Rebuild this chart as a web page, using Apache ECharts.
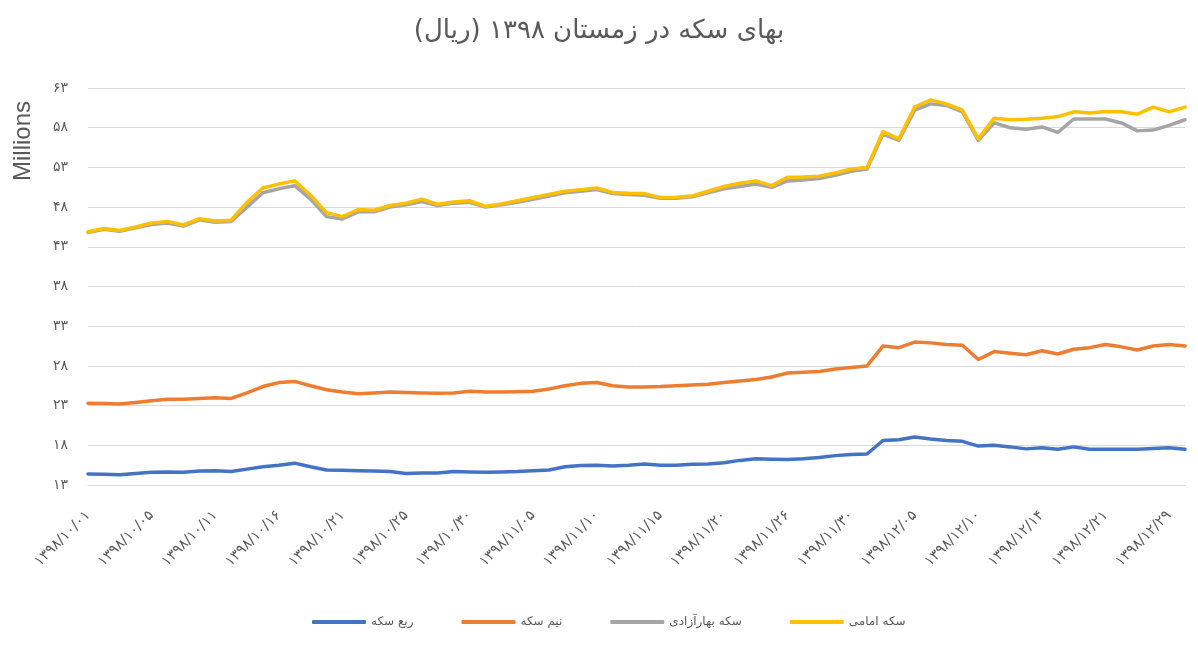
<!DOCTYPE html>
<html>
<head>
<meta charset="utf-8">
<title>بهای سکه در زمستان ۱۳۹۸</title>
<script src="https://cdn.jsdelivr.net/npm/echarts@6/dist/echarts.min.js"></script>
<style>
  html, body { margin: 0; padding: 0; background: #fff; }
  #chart { width: 1198px; height: 645px; }
</style>
</head>
<body>
<div id="chart"></div>
<script>
// trading days (Jalali), Latin digits here, shown with Persian digits
const dates = [
  '1398/10/01', '1398/10/02', '1398/10/03', '1398/10/04', '1398/10/05', '1398/10/07', '1398/10/08', '1398/10/09',
  '1398/10/11', '1398/10/12', '1398/10/14', '1398/10/15', '1398/10/16', '1398/10/17', '1398/10/18', '1398/10/19',
  '1398/10/21', '1398/10/22', '1398/10/23', '1398/10/24', '1398/10/25', '1398/10/26', '1398/10/28', '1398/10/29',
  '1398/10/30', '1398/11/01', '1398/11/02', '1398/11/03', '1398/11/05', '1398/11/06', '1398/11/07', '1398/11/09',
  '1398/11/10', '1398/11/11', '1398/11/12', '1398/11/13', '1398/11/15', '1398/11/16', '1398/11/17', '1398/11/19',
  '1398/11/20', '1398/11/21', '1398/11/23', '1398/11/24', '1398/11/26', '1398/11/27', '1398/11/28', '1398/11/29',
  '1398/11/30', '1398/12/01', '1398/12/03', '1398/12/04', '1398/12/05', '1398/12/06', '1398/12/07', '1398/12/08',
  '1398/12/10', '1398/12/11', '1398/12/12', '1398/12/13', '1398/12/14', '1398/12/15', '1398/12/17', '1398/12/18',
  '1398/12/21', '1398/12/22', '1398/12/24', '1398/12/25', '1398/12/29', '1399/01/05'
];

// millions of rials
const robSekke = [
  14.4, 14.35, 14.3, 14.45, 14.6, 14.65, 14.6, 14.75, 14.8, 14.7,
  15.0, 15.3, 15.5, 15.75, 15.3, 14.9, 14.85, 14.8, 14.75, 14.7,
  14.45, 14.5, 14.5, 14.7, 14.65, 14.6, 14.65, 14.7, 14.8, 14.9,
  15.3, 15.45, 15.5, 15.4, 15.5, 15.65, 15.5, 15.5, 15.6, 15.65,
  15.8, 16.1, 16.3, 16.25, 16.2, 16.3, 16.45, 16.7, 16.85, 16.9,
  18.6, 18.7, 19.05, 18.8, 18.6, 18.5, 17.9, 18.0, 17.8, 17.55,
  17.7, 17.5, 17.8, 17.5, 17.5, 17.5, 17.5, 17.6, 17.7, 17.5
];
const nimSekke = [
  23.3, 23.25, 23.2, 23.4, 23.6, 23.8, 23.8, 23.9, 24.0, 23.9,
  24.6, 25.4, 25.9, 26.05, 25.5, 25.0, 24.7, 24.5, 24.6, 24.7,
  24.65, 24.6, 24.55, 24.6, 24.8, 24.7, 24.7, 24.75, 24.8, 25.1,
  25.5, 25.8, 25.9, 25.5, 25.35, 25.35, 25.4, 25.5, 25.6, 25.7,
  25.9, 26.1, 26.3, 26.6, 27.1, 27.2, 27.3, 27.6, 27.8, 28.0,
  30.5, 30.3, 31.0, 30.9, 30.7, 30.6, 28.8, 29.8, 29.6, 29.4,
  29.9, 29.5, 30.1, 30.3, 30.7, 30.4, 30.0, 30.5, 30.7, 30.5
];
const baharAzadi = [
  44.8, 45.2, 44.95, 45.4, 45.8, 46.0, 45.6, 46.4, 46.1, 46.2,
  48.0, 49.8, 50.3, 50.7, 49.0, 46.8, 46.5, 47.4, 47.4, 48.0,
  48.3, 48.7, 48.2, 48.5, 48.6, 48.0, 48.3, 48.6, 49.0, 49.4,
  49.8, 50.0, 50.2, 49.7, 49.6, 49.5, 49.1, 49.1, 49.3, 49.8,
  50.3, 50.6, 50.9, 50.5, 51.3, 51.4, 51.6, 52.0, 52.5, 52.8,
  57.2, 56.4, 60.2, 61.0, 60.8, 60.0, 56.4, 58.6, 58.0, 57.8,
  58.1, 57.4, 59.1, 59.1, 59.1, 58.6, 57.6, 57.7, 58.3, 59.0
];
const emami = [
  44.9, 45.3, 45.05, 45.5, 46.0, 46.2, 45.75, 46.55, 46.25, 46.35,
  48.6, 50.4, 50.9, 51.3, 49.5, 47.3, 46.8, 47.7, 47.6, 48.2,
  48.5, 49.0, 48.35, 48.65, 48.8, 48.1, 48.4, 48.8, 49.2, 49.6,
  50.0, 50.2, 50.4, 49.85, 49.75, 49.7, 49.2, 49.25, 49.4, 50.0,
  50.6, 51.0, 51.3, 50.7, 51.75, 51.8, 51.9, 52.3, 52.8, 53.0,
  57.5, 56.6, 60.6, 61.5, 61.0, 60.2, 56.6, 59.2, 59.0, 59.05,
  59.2, 59.4, 60.0, 59.85, 60.05, 60.0, 59.7, 60.6, 60.0, 60.6
];

const seriesNames = ['ربع سکه', 'نیم سکه', 'سکه بهارآزادی', 'سکه امامی'];
const seriesColors = ['#4472c4', '#ed7d31', '#a5a5a5', '#ffc000'];
const seriesData = [robSekke, nimSekke, baharAzadi, emami];

const faDigits = '۰۱۲۳۴۵۶۷۸۹';
function toFa(s) {
  return String(s).replace(/[0-9]/g, d => faDigits[+d]);
}

const FONT = 'DejaVu Sans';
const chart = echarts.init(document.getElementById('chart'));

chart.setOption({
  backgroundColor: '#fff',
  animation: false,
  title: {
    text: 'بهای سکه در زمستان ۱۳۹۸ (ریال)',
    left: 'center',
    top: 13,
    textStyle: { fontFamily: FONT, fontSize: 26, fontWeight: 'normal', color: '#595959' }
  },
  graphic: [{
    type: 'text',
    x: 23,
    y: 141,
    rotation: Math.PI / 2,
    style: {
      text: 'Millions',
      font: '24px "Liberation Sans"',
      fill: '#595959',
      textAlign: 'center',
      textVerticalAlign: 'middle'
    }
  }],
  legend: {
    bottom: 12,
    left: 307,
    icon: 'roundRect',
    itemWidth: 54,
    itemHeight: 4,
    itemGap: 48,
    textStyle: { fontFamily: FONT, fontSize: 12, color: '#595959' },
    data: seriesNames
  },
  grid: { left: 88, right: 13, top: 88, bottom: 160 },
  xAxis: {
    type: 'category',
    boundaryGap: false,
    data: dates,
    axisLine: { lineStyle: { color: '#d9d9d9' } },
    axisTick: { show: false },
    axisLabel: {
      interval: 3,
      rotate: 45,
      margin: 28,
      fontFamily: FONT,
      fontSize: 14.5,
      color: '#595959',
      formatter: v => toFa(v)
    }
  },
  yAxis: {
    type: 'value',
    min: 13,
    max: 63,
    interval: 5,
    axisLine: { show: false },
    axisTick: { show: false },
    splitLine: { lineStyle: { color: '#d9d9d9' } },
    axisLabel: {
      margin: 20,
      fontFamily: FONT,
      fontSize: 14,
      color: '#595959',
      formatter: v => toFa(v)
    }
  },
  series: seriesNames.map((name, i) => ({
    name: name,
    type: 'line',
    data: seriesData[i],
    symbol: 'none',
    color: seriesColors[i],
    lineStyle: { width: 3.5, color: seriesColors[i], cap: 'round', join: 'round' }
  }))
});
</script>
</body>
</html>
